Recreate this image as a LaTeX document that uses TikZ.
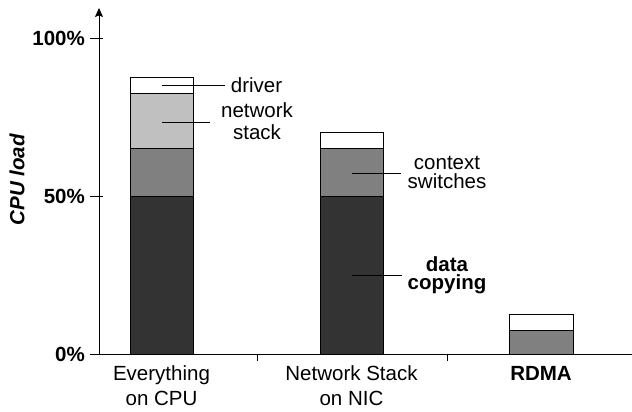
\documentclass[tikz,border=0pt]{standalone}
\usepackage{fontspec}
\setmainfont{Liberation Sans}
\usetikzlibrary{arrows.meta}
\definecolor{darkseg}{HTML}{333333}
\definecolor{midseg}{HTML}{808080}
\definecolor{lightseg}{HTML}{C0C0C0}
\tikzset{
  seg/.style={draw=black, line width=0.9pt},
  lbl/.style={inner sep=0pt, align=center, font=\fontsize{20.5}{25}\selectfont},
  lead/.style={line width=0.8pt, shorten >=6pt},
}
\begin{document}
\begin{tikzpicture}[x=1pt,y=3.16pt]
    \useasboundingbox (-99pt,-58pt) rectangle (533pt,354pt);
    % bars
    \draw[seg, fill=darkseg] (31,0) rectangle (94,50);
    \draw[seg, fill=midseg] (31,50) rectangle (94,65);
    \draw[seg, fill=lightseg] (31,65) rectangle (94,82.5);
    \draw[seg, fill=white] (31,82.5) rectangle (94,87.5);
    \draw[seg, fill=darkseg] (221,0) rectangle (284,50);
    \draw[seg, fill=midseg] (221,50) rectangle (284,65);
    \draw[seg, fill=white] (221,65) rectangle (284,70);
    \draw[seg, fill=midseg] (410,0) rectangle (474,7.5);
    \draw[seg, fill=white] (410,7.5) rectangle (474,12.5);
    % axes
    \coordinate (o) at (0,0);
    \coordinate (ytop) at (0,109.5);
    \coordinate (xstart) at (-9,0);
    \coordinate (xend) at (533,0);
    \draw[line width=0.9pt, -{Stealth[length=9pt,width=8pt,inset=1.5pt]}] (o) -- (ytop);
    \draw[line width=0.9pt] (xstart) -- (xend);
    \foreach \p in {50,100}
        \draw[line width=0.9pt] (-9,\p) -- (4,\p);
    \foreach \x in {158,348}
        \draw[line width=0.9pt] (\x,0) -- (\x,-2.2);
    % tick labels
    \node[lbl, font=\fontsize{20.5}{25}\selectfont\bfseries, anchor=east] (p100) at (-14,100) {100\%};
    \node[lbl, font=\fontsize{20.5}{25}\selectfont\bfseries, anchor=east] (p50) at (-14,50) {50\%};
    \node[lbl, font=\fontsize{20.5}{25}\selectfont\bfseries, anchor=east] (p0) at (-14,0) {0\%};
    \node[lbl, font=\fontsize{20.5}{25}\selectfont\bfseries\itshape, rotate=90] (ylab) at (-82,55.1) {CPU load};
    % categories
    \node[lbl] (cpu) at (62.5,-10) {Everything\\on CPU};
    \node[lbl] (nic) at (252.5,-10) {Network Stack\\on NIC};
    \node[lbl, font=\fontsize{20.5}{25}\selectfont\bfseries] (rdma) at (442,-6) {RDMA};
    % annotations
    \coordinate (cdrv) at (63,85);
    \coordinate (cstk) at (63,73.4);
    \coordinate (cctx) at (253,57.3);
    \coordinate (ccpy) at (253,25);
    \node[lbl] (drv) at (157.5,85) {driver};
    \node[lbl, font=\fontsize{20.5}{22}\selectfont] (stk) at (158,73.7) {network\\stack};
    \node[lbl, font=\fontsize{20.5}{19.5}\selectfont] (ctx) at (348,57.4) {context\\switches};
    \node[lbl, font=\fontsize{20.5}{18.5}\selectfont\bfseries] (cpy) at (348,25) {data\\copying};
    \draw[lead] (cdrv) -- (cdrv -| drv.west);
    \draw[lead, shorten >=11pt] (cstk) -- (cstk -| stk.west);
    \draw[lead] (cctx) -- (cctx -| ctx.west);
    \draw[lead] (ccpy) -- (ccpy -| cpy.west);
\end{tikzpicture}
\end{document}
